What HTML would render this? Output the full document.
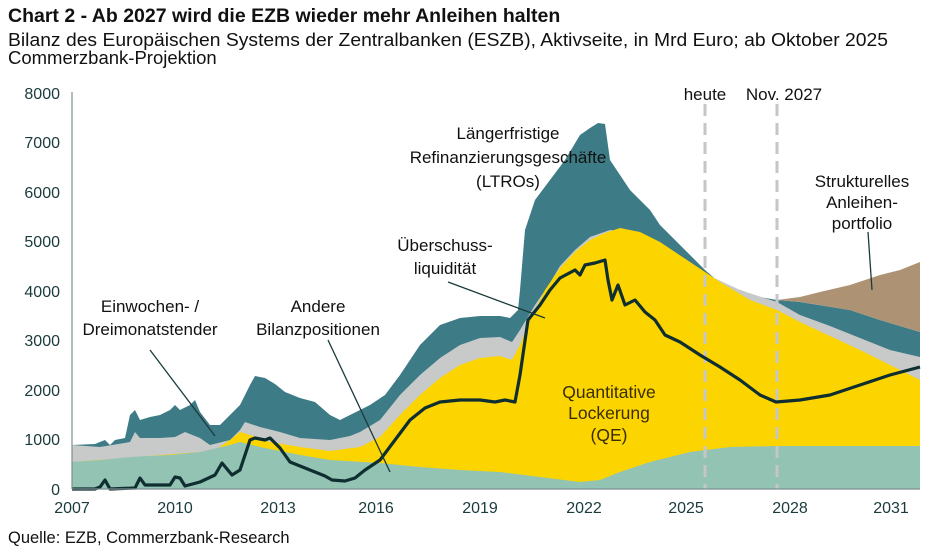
<!DOCTYPE html>
<html><head><meta charset="utf-8"><style>
body{margin:0;background:#fff;width:945px;height:553px;overflow:hidden;font-family:"Liberation Sans",sans-serif}
</style></head><body>
<svg width="945" height="553" viewBox="0 0 945 553" font-family="Liberation Sans, sans-serif">
<text x="8" y="22" font-size="19.5" font-weight="bold" fill="#111">Chart 2 - Ab 2027 wird die EZB wieder mehr Anleihen halten</text>
<text x="8" y="46" font-size="18.5" fill="#111" textLength="880" lengthAdjust="spacingAndGlyphs">Bilanz des Europäischen Systems der Zentralbanken (ESZB), Aktivseite, in Mrd Euro; ab Oktober 2025</text>
<text x="8" y="64" font-size="18.5" fill="#111">Commerzbank-Projektion</text>
<!-- total -->
<polygon fill="#3d7b86" points="72,489 72,445 95,444 105,440 110,445 115,440 125,438 130,415 135,410 140,420 150,417 160,415 170,410 175,405 180,410 190,405 195,400 200,412 210,425 220,425 230,415 240,405 245,395 250,385 255,376 265,378 275,384 285,392 300,398 315,402 330,415 340,420 350,415 360,410 370,405 385,395 400,375 410,360 420,345 430,335 440,325 460,318 480,316 500,316 510,318 518,310 520,290 525,230 535,200 550,180 565,160 580,135 590,128 598,123 605,124 610,160 620,175 630,190 640,200 650,210 660,225 670,235 680,245 690,255 705,270 720,283 740,290 760,297 777,300 800,302 850,310 880,320 920,332 920,489"/>
<polygon fill="#ad9373" points="777,300 800,297 820,292 850,285 880,275 900,270 920,262 920,332 880,320 850,310 800,302"/>
<!-- gray -->
<polygon fill="#c8c9c9" points="72,489 72,445 100,447 130,442 135,432 140,438 160,438 175,437 185,432 200,438 210,445 230,440 240,430 245,422 260,427 280,432 300,438 330,440 350,436 360,432 380,420 400,395 420,375 440,358 460,345 480,338 500,337 512,342 520,330 535,305 550,283 560,266 575,250 590,237 610,230 630,232 650,240 680,258 710,276 740,290 777,302 800,315 830,326 860,338 890,350 920,357 920,489"/>
<!-- yellow -->
<polygon fill="#fcd500" points="72,489 72,462 200,452 215,450 230,440 240,432 250,435 270,442 300,447 330,451 360,447 380,437 400,415 420,395 440,378 460,365 480,358 500,356 512,360 520,345 530,320 545,290 560,268 575,252 590,240 605,233 620,228 640,232 660,242 690,262 720,282 750,300 777,310 800,322 830,336 860,350 890,365 920,380 920,489"/>
<!-- mint -->
<polygon fill="#93c3b3" points="72,489 72,462 100,460 130,457 170,455 200,452 230,445 240,442 260,447 300,455 330,460 380,463 420,467 460,470 500,472 540,477 580,482 600,480 620,472 650,462 690,452 730,447 777,446 920,446 920,489"/>
<line x1="705" y1="104" x2="705" y2="489" stroke="#c6c6c6" stroke-width="3" stroke-dasharray="12,7"/>
<line x1="777" y1="104" x2="777" y2="489" stroke="#c6c6c6" stroke-width="3" stroke-dasharray="12,7"/>
<polyline fill="none" stroke="#0f2e30" stroke-width="3.2" stroke-linejoin="round" points="72,489 95,489 100,487 105,480 110,489 135,488 140,478 145,485 170,485 175,477 180,478 185,486 200,482 215,475 222,463 232,475 240,470 245,455 250,440 255,438 265,440 270,438 280,448 290,462 310,470 325,476 332,480 345,481 355,478 365,470 380,460 395,440 410,420 425,408 440,402 460,400 480,400 495,402 505,400 515,402 520,375 528,320 540,305 550,290 560,278 575,270 580,275 585,265 595,263 605,260 608,280 612,300 618,285 625,305 635,300 645,312 655,320 665,335 680,342 700,355 720,367 740,380 760,395 776,402 800,400 830,395 860,385 890,375 920,367"/>
<g stroke="#1a3a3c" stroke-width="1.3">
<line x1="150" y1="350" x2="215" y2="436"/>
<line x1="328" y1="340" x2="390" y2="472"/>
<line x1="448" y1="282" x2="545" y2="318"/>
<line x1="868" y1="232" x2="872" y2="290"/>
</g>
<g stroke="#7f8f90" stroke-width="1.2">
<line x1="72" y1="92" x2="72" y2="489"/>
<line x1="72" y1="489" x2="920" y2="489"/>
</g>
<g font-size="16" fill="#1a3a3c" text-anchor="end">
<text x="60" y="99">8000</text><text x="60" y="148">7000</text><text x="60" y="198">6000</text><text x="60" y="247">5000</text><text x="60" y="297">4000</text><text x="60" y="346">3000</text><text x="60" y="396">2000</text><text x="60" y="445">1000</text><text x="60" y="495">0</text>
</g>
<g font-size="16" fill="#1a3a3c" text-anchor="middle">
<text x="72" y="513">2007</text><text x="175" y="513">2010</text><text x="278" y="513">2013</text><text x="376" y="513">2016</text><text x="480" y="513">2019</text><text x="584" y="513">2022</text><text x="686" y="513">2025</text><text x="790" y="513">2028</text><text x="891" y="513">2031</text>
</g>
<g font-size="17" fill="#111" text-anchor="middle">
<text x="705" y="100">heute</text><text x="784" y="100">Nov. 2027</text>
<text x="508" y="139">Längerfristige</text><text x="508" y="163">Refinanzierungsgeschäfte</text><text x="508" y="187">(LTROs)</text>
<text x="445" y="251">Überschuss-</text><text x="445" y="274">liquidität</text>
<text x="150" y="312">Einwochen- /</text><text x="150" y="335">Dreimonatstender</text>
<text x="318" y="312">Andere</text><text x="318" y="335">Bilanzpositionen</text>
<text x="862" y="187">Strukturelles</text><text x="862" y="208">Anleihen-</text><text x="862" y="229">portfolio</text>
</g>
<g font-size="17.5" fill="#3a2e00" text-anchor="middle">
<text x="609" y="398">Quantitative</text><text x="609" y="419">Lockerung</text><text x="609" y="441">(QE)</text>
</g>
<text x="8" y="543" font-size="16.5" fill="#111">Quelle: EZB, Commerzbank-Research</text>
</svg>
</body></html>
